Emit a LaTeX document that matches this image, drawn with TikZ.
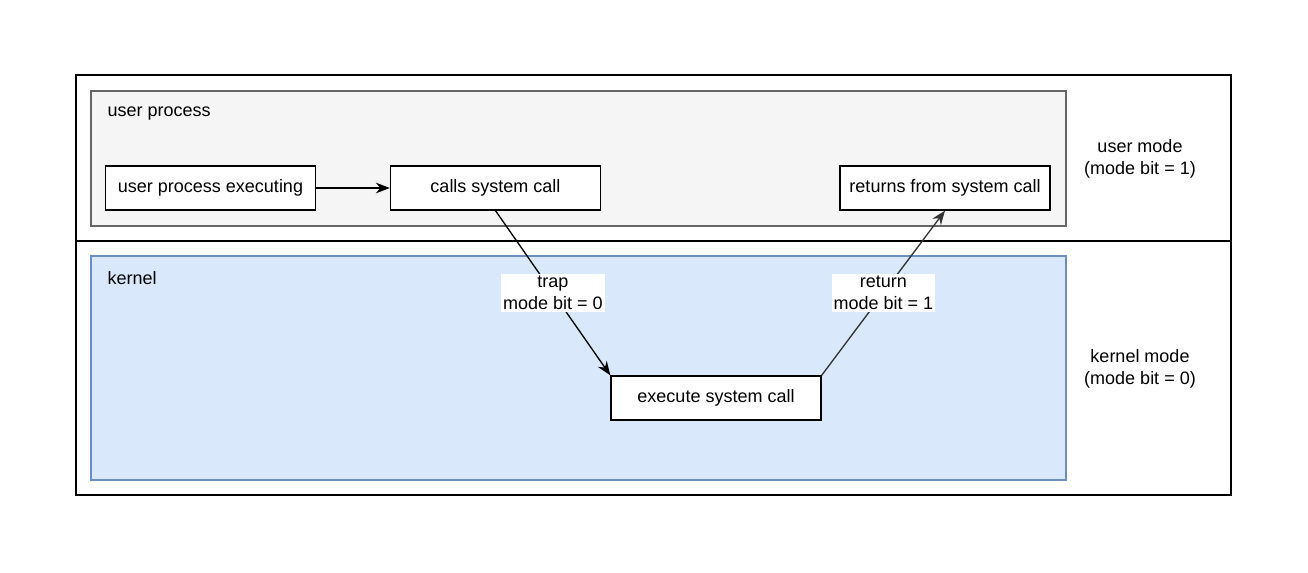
\documentclass[tikz,border=0pt]{standalone}
\usepackage{fontspec}
\setmainfont{Liberation Sans}
\usetikzlibrary{arrows.meta}

\definecolor{usergray}{HTML}{F5F5F5}
\definecolor{usergraydraw}{HTML}{666666}
\definecolor{kernelblue}{HTML}{DAE8FC}
\definecolor{kernelbluedraw}{HTML}{6C8EBF}
\definecolor{returngray}{HTML}{333333}

\begin{document}
\begin{tikzpicture}[
x=0.75pt, y=-0.75pt,
font=\fontsize{13.5}{16.5}\selectfont,
kasten/.style={draw, line width=1pt, fill=white, minimum width=157.5pt, minimum height=33pt, inner sep=0pt},
marke/.style={fill=white, align=center, inner sep=1.5pt},
pfeil/.style={-{Stealth[length=10.5pt,width=8pt]}, line width=1pt},
]

\useasboundingbox (0,0) rectangle (1308,573);

%aeusserer Rahmen mit Trennlinie
\draw[line width=1pt] (76,75) rectangle (1231,495);
\draw[line width=1pt] (76,241) -- (1231,241);

%Bereiche
\draw[line width=1pt, usergraydraw, fill=usergray] (91,91) rectangle (1066,226);
\draw[line width=1pt, kernelbluedraw, fill=kernelblue] (91,256) rectangle (1066,480);

\node[anchor=west] (userlabel) at (103,114) {user process};
\node[anchor=west] (kernellabel) at (103,278) {kernel};

%Kaesten
\node[kasten] (exec) at (210.5,188) {user process executing};
\node[kasten] (calls) at (495.5,188) {calls system call};
\node[kasten] (returns) at (945,188) {returns from system call};
\node[kasten] (syscall) at (716,398) {execute system call};

\draw[pfeil] (exec) -- (calls);
\draw[pfeil] (calls.south) -- (syscall.north west) node[marke, midway] {trap\\mode bit = 0};
\draw[pfeil, returngray] (syscall.north east) -- (returns.south) node[marke, midway, text=black] {return\\mode bit = 1};

%Modi rechts
\node[align=center] (usermode) at (1140,159) {user mode\\(mode bit = 1)};
\node[align=center] (kernelmode) at (1140,369) {kernel mode\\(mode bit = 0)};

\end{tikzpicture}
\end{document}
